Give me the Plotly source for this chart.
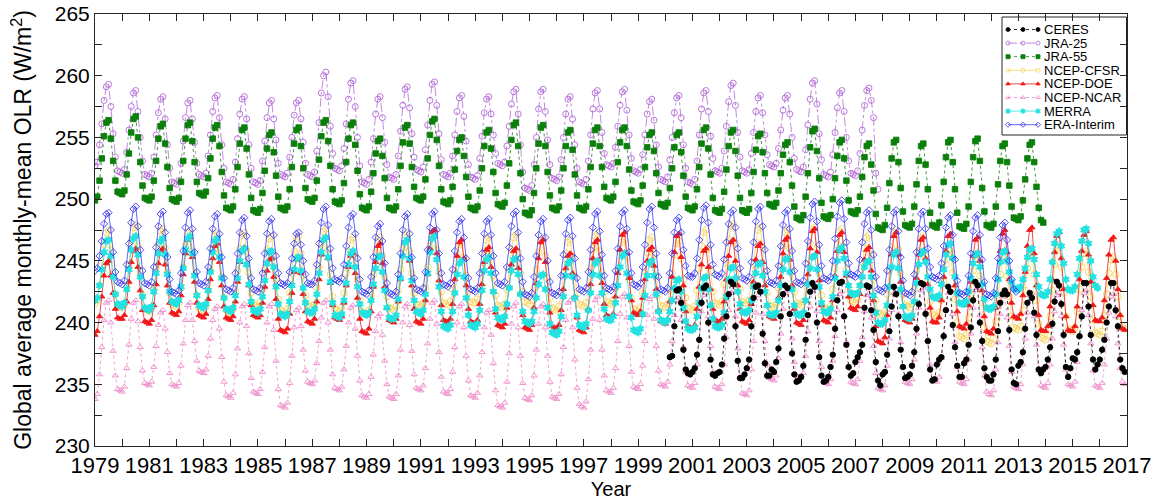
import plotly.graph_objects as go

# ---------------- data (monthly global-mean OLR, W/m^2) ----------------
CERES_START = (2000, 3)
CERES = [
    237.2, 237.3, 239.7, 242.6, 242.7, 241.6, 237.8, 236.2, 235.9, 235.8,
    236.0, 236.3, 237.4, 238.6, 241.6, 242.8, 243.0, 240.0, 237.0, 235.8, 235.7, 235.9,
    236.0, 236.6, 238.7, 240.5, 242.3, 243.3, 243.1, 239.7, 236.9, 235.5, 235.5, 235.8,
    236.3, 237.0, 239.7, 242.0, 242.9, 243.0, 242.5, 239.1, 236.7, 235.7, 235.7, 236.2,
    236.0, 236.8, 237.9, 240.5, 242.3, 243.0, 242.8, 240.7, 237.5, 235.8, 235.2, 235.3,
    235.6, 236.5, 238.6, 240.6, 242.5, 243.2, 242.9, 240.0, 237.2, 235.7, 235.2, 235.3,
    235.6, 236.4, 237.4, 239.5, 241.8, 243.2, 243.3, 240.5, 238.2, 236.4, 235.7, 235.9,
    236.8, 237.2, 237.6, 238.2, 241.2, 243.0, 242.9, 241.0, 239.4, 236.8, 235.3, 234.9,
    235.8, 236.0, 237.4, 239.3, 241.3, 242.9, 242.3, 240.5, 237.8, 236.4, 235.5, 235.6,
    235.8, 236.5, 237.6, 239.5, 241.5, 243.2, 243.1, 240.7, 238.5, 236.2, 235.3, 235.4,
    236.6, 237.0, 237.2, 238.9, 241.0, 242.9, 242.5, 239.8, 238.0, 236.5, 235.6, 235.6,
    236.7, 237.0, 238.2, 239.6, 241.8, 243.3, 243.0, 240.0, 238.5, 236.3, 235.6, 235.3,
    235.3, 235.8, 237.0, 239.3, 241.6, 242.3, 242.6, 242.3, 239.4, 236.2, 235.1, 235.0,
    236.5, 236.8, 237.6, 239.5, 241.6, 242.4, 242.0, 240.8, 239.0, 236.2, 235.9, 236.2,
    236.4, 237.0, 238.0, 239.9, 241.7, 243.3, 243.0, 241.5, 239.0, 236.4, 235.6, 236.3,
    237.1, 237.0, 237.6, 238.9, 240.5, 243.2, 243.2, 241.3, 239.0, 237.0, 236.2, 236.6,
    237.0, 237.8, 238.6, 240.0, 241.3, 243.2, 243.2, 241.0, 239.7, 237.0, 236.3, 236.0,
]

JRA25_START = (1979, 1)
JRA25 = [
    252.7, 253.0, 254.4, 256.1, 258.0, 259.1, 259.3, 257.5, 255.3, 253.4, 252.3, 252.2,
    252.1, 252.4, 253.8, 255.6, 257.5, 258.6, 258.8, 257.1, 255.0, 253.1, 252.0, 251.9,
    251.8, 252.1, 253.4, 255.2, 257.0, 258.1, 258.3, 256.5, 254.4, 252.5, 251.4, 251.3,
    251.2, 251.5, 252.9, 254.7, 256.6, 257.8, 258.0, 256.5, 254.6, 252.9, 252.0, 251.9,
    251.8, 252.1, 253.5, 255.2, 257.1, 258.2, 258.4, 256.6, 254.4, 252.5, 251.4, 251.3,
    251.2, 251.6, 253.0, 254.9, 256.9, 258.1, 258.3, 256.5, 254.4, 252.5, 251.4, 251.3,
    251.2, 251.5, 253.1, 254.7, 256.6, 257.8, 258.0, 256.5, 254.8, 252.9, 252.0, 251.9,
    251.8, 252.1, 253.4, 255.0, 256.8, 257.8, 258.0, 256.5, 254.6, 252.9, 252.0, 251.9,
    251.8, 252.2, 253.9, 256.2, 258.6, 260.0, 260.3, 258.3, 255.9, 253.7, 252.5, 252.4,
    252.3, 252.7, 254.1, 256.1, 258.1, 259.4, 259.6, 257.5, 255.0, 252.7, 251.4, 251.3,
    251.2, 251.6, 253.0, 254.9, 256.9, 258.1, 258.3, 256.6, 254.6, 252.8, 251.8, 251.7,
    251.6, 252.0, 253.5, 255.5, 257.6, 258.9, 259.1, 257.4, 255.3, 253.4, 252.4, 252.3,
    252.2, 252.6, 254.0, 256.0, 258.0, 259.3, 259.5, 257.6, 255.3, 253.2, 252.0, 251.9,
    251.8, 252.1, 253.5, 255.2, 257.1, 258.2, 258.4, 256.7, 254.7, 252.8, 251.8, 251.7,
    251.6, 251.9, 253.3, 255.1, 257.0, 258.1, 258.3, 256.9, 255.2, 253.7, 252.9, 252.8,
    252.7, 253.0, 254.3, 255.9, 257.7, 258.7, 258.9, 256.9, 254.4, 252.2, 250.9, 250.8,
    250.7, 251.1, 252.8, 255.0, 257.3, 258.7, 258.9, 257.1, 254.8, 252.8, 251.7, 251.6,
    251.5, 251.8, 253.2, 255.0, 256.9, 258.1, 258.3, 256.5, 254.4, 252.5, 251.4, 251.3,
    251.2, 251.6, 253.1, 255.2, 257.3, 258.6, 258.8, 257.3, 255.4, 253.7, 252.8, 252.7,
    252.6, 252.9, 254.2, 255.9, 257.6, 258.7, 258.9, 257.2, 255.2, 253.3, 252.3, 252.2,
    252.1, 252.4, 253.6, 255.2, 256.9, 257.9, 258.1, 256.4, 254.4, 252.6, 251.6, 251.5,
    251.4, 251.8, 253.2, 255.0, 257.0, 258.2, 258.4, 256.6, 254.4, 252.5, 251.4, 251.3,
    251.2, 251.6, 253.1, 255.2, 257.3, 258.6, 258.8, 257.1, 255.1, 253.3, 252.3, 252.2,
    252.1, 252.5, 253.9, 255.9, 257.9, 259.2, 259.4, 257.6, 255.4, 253.4, 252.3, 252.2,
    252.1, 252.4, 253.7, 255.4, 257.1, 258.2, 258.4, 257.0, 255.2, 253.6, 252.8, 252.7,
    252.6, 252.9, 254.1, 255.6, 257.2, 258.2, 258.4, 256.9, 255.0, 253.3, 252.4, 252.3,
    252.2, 252.6, 254.0, 256.0, 258.1, 259.4, 259.6, 257.7, 255.3, 253.2, 252.0, 251.9,
    251.8, 252.2, 253.6, 255.4, 257.4, 258.6, 258.8, 257.1, 255.0, 253.1, 252.1, 252.0,
    251.9, 252.3, 253.7, 255.6, 257.6, 258.8, 259.0, 258.0, 256.6, 252.1, 250.8,
]

JRA55_START = (1979, 1)
JRA55 = [
    249.9, 250.2, 251.5, 253.3, 255.1, 256.2, 256.4, 254.9, 253.1, 251.5, 250.6, 250.5,
    250.4, 250.7, 252.0, 253.7, 255.4, 256.5, 256.7, 255.0, 253.0, 251.1, 250.1, 250.0,
    249.9, 250.2, 251.5, 253.1, 254.9, 255.9, 256.1, 254.5, 252.6, 250.9, 250.0, 249.9,
    249.8, 250.1, 251.4, 253.1, 254.9, 256.0, 256.2, 254.7, 253.0, 251.4, 250.5, 250.4,
    250.3, 250.6, 251.7, 253.3, 254.9, 255.8, 256.0, 254.3, 252.2, 250.3, 249.3, 249.2,
    249.1, 249.4, 250.8, 252.6, 254.5, 255.6, 255.8, 254.1, 252.0, 250.1, 249.1, 249.0,
    248.9, 249.2, 250.5, 252.3, 254.1, 255.2, 255.4, 253.8, 251.9, 250.2, 249.3, 249.2,
    249.1, 249.4, 250.8, 252.6, 254.5, 255.6, 255.8, 254.3, 252.5, 250.9, 250.0, 249.9,
    249.8, 250.1, 251.5, 253.2, 255.1, 256.2, 256.4, 254.7, 252.7, 250.8, 249.8, 249.7,
    249.6, 249.9, 251.3, 253.0, 254.9, 256.0, 256.2, 254.4, 252.3, 250.4, 249.3, 249.2,
    249.1, 249.4, 250.6, 252.1, 253.7, 254.7, 254.9, 253.5, 251.7, 250.1, 249.3, 249.2,
    249.1, 249.4, 250.8, 252.7, 254.6, 255.8, 256.0, 254.5, 252.6, 251.0, 250.1, 250.0,
    249.9, 250.2, 251.6, 253.3, 255.2, 256.3, 256.5, 254.8, 252.7, 250.8, 249.8, 249.7,
    249.6, 249.9, 251.0, 252.4, 253.9, 254.8, 255.0, 253.5, 251.8, 250.2, 249.3, 249.2,
    249.1, 249.4, 250.7, 252.5, 254.3, 255.4, 255.6, 254.1, 252.2, 250.5, 249.6, 249.5,
    249.4, 249.7, 251.1, 252.9, 254.8, 256.0, 256.2, 254.3, 252.1, 250.0, 248.9, 248.8,
    248.7, 249.1, 250.5, 252.5, 254.5, 255.8, 256.0, 254.3, 252.2, 250.3, 249.3, 249.2,
    249.1, 249.4, 250.7, 252.5, 254.3, 255.4, 255.6, 254.0, 252.0, 250.3, 249.3, 249.2,
    249.1, 249.4, 250.8, 252.6, 254.5, 255.6, 255.8, 254.3, 252.6, 251.0, 250.1, 250.0,
    249.9, 250.2, 251.4, 253.0, 254.6, 255.6, 255.8, 254.3, 252.4, 250.7, 249.8, 249.7,
    249.6, 249.9, 251.1, 252.6, 254.2, 255.2, 255.4, 253.9, 252.1, 250.5, 249.6, 249.5,
    249.4, 249.7, 250.9, 252.5, 254.2, 255.2, 255.4, 253.8, 251.9, 250.2, 249.3, 249.2,
    249.1, 249.4, 250.8, 252.6, 254.5, 255.6, 255.8, 254.1, 252.0, 250.1, 249.1, 249.0,
    248.9, 249.2, 250.6, 252.4, 254.3, 255.4, 255.6, 253.9, 251.9, 250.1, 249.1, 249.0,
    248.9, 249.2, 250.5, 252.2, 254.0, 255.1, 255.3, 253.8, 252.1, 250.5, 249.6, 249.5,
    249.4, 249.7, 250.7, 252.1, 253.6, 254.4, 254.6, 253.0, 251.1, 249.4, 248.5, 248.4,
    248.3, 248.7, 250.2, 252.1, 254.2, 255.5, 255.7, 253.9, 251.7, 249.7, 248.6, 248.5,
    248.4, 248.7, 250.0, 251.7, 253.5, 254.6, 254.8, 253.3, 251.5, 249.9, 249.0, 248.9,
    248.8, 249.1, 250.2, 251.8, 253.4, 254.3, 254.5, 252.8, 250.7, 248.8, 247.7, 247.6,
    247.5, 247.9, 249.3, 251.3, 253.3, 254.6, 254.8, 253.0, 250.9, 249.0, 247.9, 247.8,
    247.7, 248.0, 249.4, 251.2, 253.1, 254.3, 254.5, 252.8, 250.8, 248.9, 247.9, 247.8,
    247.7, 248.1, 249.5, 251.4, 253.4, 254.6, 254.8, 253.0, 250.8, 248.9, 247.8, 247.7,
    247.6, 248.0, 249.4, 251.4, 253.4, 254.7, 254.9, 253.1, 250.9, 249.0, 247.9, 247.8,
    247.7, 248.0, 249.4, 251.2, 253.1, 254.3, 254.5, 253.0, 251.1, 249.4, 248.5, 248.4,
    248.3, 248.6, 249.9, 251.6, 253.3, 254.4, 254.6, 253.0, 251.0, 249.3, 248.3, 248.1,
]

CFSR_START = (1979, 1)
CFSR = [
    241.5, 241.8, 243.0, 244.6, 246.3, 247.3, 247.5, 245.9, 244.0, 242.3, 241.4, 241.3,
    241.2, 241.5, 242.9, 244.7, 246.6, 247.7, 247.9, 246.2, 244.1, 242.2, 241.1, 241.0,
    240.9, 241.2, 242.6, 244.4, 246.3, 247.4, 247.6, 246.0, 244.1, 242.4, 241.5, 241.4,
    241.3, 241.6, 242.8, 244.5, 246.2, 247.2, 247.4, 245.8, 243.9, 242.2, 241.2, 241.1,
    241.0, 241.3, 242.6, 244.2, 246.0, 247.0, 247.2, 245.6, 243.7, 242.0, 241.0, 240.9,
    240.8, 241.1, 242.4, 244.2, 246.0, 247.1, 247.3, 245.8, 244.0, 242.4, 241.5, 241.4,
    241.3, 241.6, 242.7, 244.3, 245.9, 246.8, 247.0, 245.5, 243.6, 241.9, 241.0, 240.9,
    240.8, 241.1, 242.4, 244.0, 245.8, 246.8, 247.0, 245.6, 243.8, 242.2, 241.4, 241.3,
    241.2, 241.5, 242.8, 244.5, 246.3, 247.4, 247.6, 245.9, 243.9, 242.1, 241.1, 241.0,
    240.9, 241.2, 242.4, 244.0, 245.7, 246.7, 246.9, 245.4, 243.5, 241.8, 240.9, 240.8,
    240.7, 241.0, 242.3, 243.9, 245.7, 246.7, 246.9, 245.4, 243.7, 242.1, 241.2, 241.1,
    241.0, 241.3, 242.6, 244.3, 246.0, 247.1, 247.3, 245.8, 244.0, 242.4, 241.5, 241.4,
    241.3, 241.6, 242.8, 244.5, 246.2, 247.2, 247.4, 245.9, 244.1, 242.5, 241.6, 241.5,
    241.4, 241.7, 242.7, 244.1, 245.5, 246.3, 246.5, 245.3, 243.8, 242.5, 241.7, 241.6,
    241.6, 241.9, 242.9, 244.4, 245.8, 246.7, 246.9, 245.5, 243.8, 242.2, 241.4, 241.3,
    241.2, 241.5, 242.7, 244.3, 245.9, 246.9, 247.1, 245.7, 244.0, 242.5, 241.7, 241.6,
    241.5, 241.8, 242.8, 244.3, 245.7, 246.6, 246.8, 245.4, 243.6, 242.0, 241.2, 241.1,
    241.0, 241.3, 242.4, 244.0, 245.6, 246.5, 246.7, 245.4, 243.7, 242.3, 241.5, 241.4,
    241.3, 241.6, 242.8, 244.4, 246.0, 247.0, 247.2, 245.8, 244.1, 242.5, 241.7, 241.6,
    241.5, 241.8, 242.8, 244.2, 245.7, 246.5, 246.7, 245.3, 243.5, 241.9, 241.1, 241.0,
    240.9, 241.2, 242.4, 244.0, 245.7, 246.7, 246.9, 245.5, 243.8, 242.2, 241.4, 241.3,
    241.2, 241.5, 242.6, 244.0, 245.5, 246.4, 246.6, 245.2, 243.5, 242.0, 241.2, 241.1,
    241.0, 241.3, 242.6, 244.4, 246.2, 247.3, 247.5, 246.0, 244.1, 242.5, 241.6, 241.5,
    241.4, 241.7, 243.1, 244.8, 246.7, 247.8, 248.0, 246.4, 244.4, 242.7, 241.7, 241.6,
    241.5, 241.8, 243.1, 244.7, 246.5, 247.5, 247.7, 246.1, 244.1, 242.4, 241.4, 241.3,
    241.2, 241.5, 242.8, 244.5, 246.2, 247.3, 247.5, 246.0, 244.1, 242.5, 241.6, 241.5,
    241.4, 241.7, 243.0, 244.7, 246.4, 247.5, 247.7, 246.0, 244.0, 242.2, 241.2, 241.1,
    241.0, 241.3, 242.7, 244.4, 246.3, 247.4, 247.6, 246.1, 244.3, 242.7, 241.8, 241.7,
    241.6, 241.9, 243.0, 244.5, 246.0, 246.9, 247.1, 245.5, 243.5, 241.8, 240.8, 240.7,
    240.6, 240.9, 242.3, 244.2, 246.1, 247.3, 247.5, 245.9, 244.0, 242.3, 241.4, 241.3,
    241.2, 241.5, 242.7, 244.2, 245.8, 246.8, 247.0, 245.4, 243.4, 241.7, 240.7, 240.6,
    240.5, 240.8, 241.8, 243.3, 244.7, 245.6, 245.8, 244.0, 241.9, 240.0, 238.9, 238.8,
    238.7, 239.0, 240.4, 242.3, 244.2, 245.4, 245.6, 243.8, 241.6, 239.6, 238.5, 238.4,
    238.3, 238.7, 240.1, 242.0, 243.9, 245.1, 245.3, 243.8, 242.1, 240.5, 239.6, 239.5,
    239.4, 239.7, 241.0, 242.6, 244.4, 245.4, 245.6, 243.9, 241.8, 239.9, 238.8, 238.7,
    238.6, 239.0, 240.5, 242.6, 244.7, 246.0, 246.2, 244.5, 242.4, 240.5, 239.5, 239.4,
    239.3, 239.6, 240.9, 242.7, 244.5, 245.6, 245.8, 244.1, 242.1, 240.2, 239.2, 239.1,
    239.0, 239.3, 240.6, 242.3, 244.0, 245.1, 245.3, 243.9, 242.1, 240.5, 239.7, 239.5,
]

DOE_START = (1979, 1)
DOE = [
    239.0, 239.3, 240.5, 242.1, 243.8, 244.8, 245.0, 243.8, 242.4, 241.1, 240.4, 240.3,
    240.3, 240.6, 241.7, 243.3, 244.9, 245.8, 246.0, 244.5, 242.6, 241.0, 240.1, 240.0,
    239.9, 240.2, 241.4, 243.1, 244.8, 245.8, 246.0, 244.7, 243.0, 241.6, 240.8, 240.7,
    240.6, 240.9, 242.2, 243.9, 245.6, 246.7, 246.9, 245.3, 243.3, 241.6, 240.6, 240.5,
    240.4, 240.7, 241.9, 243.5, 245.2, 246.2, 246.4, 244.9, 243.0, 241.3, 240.4, 240.3,
    240.2, 240.5, 241.7, 243.3, 244.9, 245.9, 246.1, 244.7, 243.0, 241.4, 240.6, 240.5,
    240.4, 240.6, 241.6, 242.9, 244.2, 245.1, 245.2, 243.7, 241.9, 240.3, 239.4, 239.3,
    239.2, 239.5, 240.7, 242.4, 244.1, 245.1, 245.3, 244.0, 242.3, 240.9, 240.1, 240.0,
    239.9, 240.3, 241.7, 243.5, 245.5, 246.7, 246.9, 245.2, 243.2, 241.4, 240.4, 240.3,
    240.2, 240.5, 241.6, 243.0, 244.5, 245.4, 245.6, 244.0, 242.0, 240.3, 239.3, 239.2,
    239.1, 239.5, 240.9, 242.9, 244.9, 246.2, 246.4, 244.8, 242.9, 241.2, 240.2, 240.1,
    240.0, 240.3, 241.7, 243.5, 245.4, 246.5, 246.7, 245.0, 243.0, 241.1, 240.1, 240.0,
    239.9, 240.3, 241.8, 243.9, 246.0, 247.3, 247.5, 245.6, 243.4, 241.4, 240.2, 240.1,
    240.0, 240.3, 241.5, 243.5, 245.4, 246.5, 246.7, 245.2, 243.0, 241.1, 240.1, 240.0,
    239.9, 240.2, 241.5, 243.1, 244.9, 245.9, 246.1, 244.5, 242.5, 240.8, 239.8, 239.7,
    239.6, 239.9, 241.2, 242.9, 244.7, 245.8, 246.0, 244.4, 242.4, 240.6, 239.6, 239.5,
    239.4, 239.8, 241.2, 243.2, 245.2, 246.5, 246.7, 244.9, 242.7, 240.8, 239.7, 239.6,
    239.5, 239.8, 241.0, 242.7, 244.4, 245.4, 245.6, 244.0, 242.1, 240.4, 239.4, 239.3,
    239.2, 239.6, 241.1, 243.1, 245.2, 246.5, 246.7, 245.1, 243.2, 241.5, 240.6, 240.5,
    240.4, 240.7, 242.1, 244.0, 245.9, 247.1, 247.3, 245.6, 243.6, 241.8, 240.8, 240.7,
    240.6, 240.9, 242.0, 243.5, 245.0, 245.9, 246.1, 244.6, 242.7, 241.0, 240.1, 240.0,
    239.9, 240.3, 241.7, 243.7, 245.7, 247.0, 247.2, 245.3, 243.0, 240.9, 239.7, 239.6,
    239.5, 239.8, 241.1, 242.9, 244.7, 245.8, 246.0, 244.5, 242.7, 241.1, 240.2, 240.1,
    240.0, 240.3, 241.7, 243.5, 245.4, 246.5, 246.7, 245.0, 243.0, 241.1, 240.1, 240.0,
    239.9, 240.2, 241.5, 243.3, 245.1, 246.2, 246.4, 244.9, 243.0, 241.4, 240.5, 240.4,
    240.3, 240.6, 242.0, 243.7, 245.6, 246.7, 246.9, 245.1, 243.0, 241.1, 240.0, 239.9,
    239.8, 240.2, 241.8, 243.9, 246.0, 247.4, 247.6, 245.7, 243.4, 241.4, 240.2, 240.1,
    240.0, 240.4, 241.8, 243.8, 245.8, 247.1, 247.3, 245.7, 243.8, 242.1, 241.2, 241.1,
    241.0, 241.3, 242.3, 243.7, 245.1, 245.9, 246.1, 244.2, 241.8, 239.7, 238.5, 238.4,
    238.3, 238.8, 240.6, 243.0, 245.5, 247.0, 247.3, 245.5, 243.3, 241.3, 240.2, 240.1,
    240.0, 240.3, 241.7, 243.6, 245.5, 246.7, 246.9, 245.2, 243.1, 241.2, 240.1, 240.0,
    240.0, 240.4, 241.8, 243.7, 245.8, 247.0, 247.2, 245.3, 243.0, 240.9, 239.7, 239.6,
    239.5, 239.9, 241.4, 243.3, 245.4, 246.7, 246.9, 245.0, 242.6, 240.5, 239.3, 239.2,
    239.1, 239.5, 241.2, 243.5, 245.8, 247.2, 247.5, 245.7, 243.5, 241.6, 240.5, 240.4,
    240.3, 240.7, 242.2, 244.1, 246.2, 247.5, 247.7, 245.6, 243.0, 240.6, 239.4, 239.3,
    239.3, 239.7, 241.3, 243.5, 245.7, 247.0, 247.3, 245.2, 242.7, 240.5, 239.4, 239.3,
    239.3, 239.7, 241.3, 243.5, 245.8, 247.1, 247.4, 245.5, 243.3, 241.4, 240.2, 240.1,
    240.1, 240.4, 241.8, 243.6, 245.5, 246.7, 246.9, 245.0, 242.7, 240.6, 239.5, 239.4,
]

NCAR_START = (1979, 1)
NCAR = [
    233.8, 234.2, 235.8, 238.0, 240.2, 241.6, 241.8, 240.0, 237.7, 235.7, 234.6, 234.5,
    234.4, 234.8, 236.3, 238.2, 240.3, 241.6, 241.8, 240.1, 238.0, 236.1, 235.1, 235.0,
    234.9, 235.2, 236.4, 238.1, 239.8, 240.8, 241.0, 239.5, 237.6, 235.9, 235.0, 234.9,
    234.8, 235.1, 236.5, 238.3, 240.2, 241.4, 241.6, 240.2, 238.5, 236.9, 236.1, 236.0,
    235.9, 236.2, 237.3, 238.7, 240.2, 241.1, 241.3, 239.5, 237.2, 235.2, 234.1, 234.0,
    233.9, 234.3, 235.8, 237.9, 240.0, 241.3, 241.5, 239.7, 237.5, 235.5, 234.4, 234.3,
    234.2, 234.6, 236.0, 238.0, 240.0, 241.3, 241.5, 239.4, 236.9, 234.6, 233.3, 233.2,
    233.1, 233.5, 235.1, 237.3, 239.6, 241.0, 241.2, 239.7, 237.8, 236.1, 235.2, 235.1,
    235.0, 235.3, 236.7, 238.5, 240.4, 241.6, 241.8, 240.0, 237.8, 235.8, 234.7, 234.6,
    234.5, 234.8, 236.2, 238.1, 240.0, 241.2, 241.4, 239.5, 237.3, 235.3, 234.1, 234.0,
    233.9, 234.2, 235.6, 237.4, 239.3, 240.5, 240.7, 239.0, 236.9, 235.0, 234.0, 233.9,
    233.8, 234.2, 235.7, 237.8, 240.0, 241.3, 241.5, 239.8, 237.7, 235.8, 234.7, 234.6,
    234.5, 234.9, 236.3, 238.3, 240.3, 241.6, 241.8, 239.9, 237.6, 235.6, 234.4, 234.3,
    234.2, 234.6, 236.0, 238.0, 240.0, 241.3, 241.5, 239.6, 237.3, 235.3, 234.1, 234.0,
    233.9, 234.3, 235.7, 237.6, 239.6, 240.8, 241.0, 239.0, 236.7, 234.5, 233.3, 233.2,
    233.1, 233.5, 235.2, 237.5, 239.9, 241.3, 241.6, 239.6, 237.3, 235.1, 233.9, 233.8,
    233.7, 234.1, 235.7, 237.8, 239.9, 241.3, 241.5, 239.6, 237.3, 235.2, 234.0, 233.9,
    233.8, 234.2, 235.8, 238.0, 240.2, 241.6, 241.8, 239.6, 237.0, 234.7, 233.4, 233.2,
    233.1, 233.6, 235.4, 237.8, 240.3, 241.8, 242.1, 240.2, 237.8, 235.7, 234.5, 234.4,
    234.3, 234.7, 236.3, 238.5, 240.7, 242.1, 242.3, 240.4, 238.1, 236.0, 234.8, 234.7,
    234.6, 235.0, 236.5, 238.5, 240.6, 241.9, 242.1, 240.3, 238.1, 236.1, 235.0, 234.9,
    234.8, 235.2, 236.6, 238.5, 240.6, 241.8, 242.0, 240.2, 238.0, 236.0, 234.9, 234.8,
    234.7, 235.1, 236.6, 238.7, 240.9, 242.2, 242.4, 240.5, 238.1, 236.0, 234.8, 234.7,
    234.6, 235.0, 236.6, 238.8, 241.0, 242.4, 242.6, 240.5, 237.9, 235.6, 234.3, 234.2,
    234.1, 234.5, 236.2, 238.5, 240.8, 242.2, 242.5, 240.7, 238.5, 236.6, 235.5, 235.4,
    235.3, 235.7, 237.1, 239.1, 241.1, 242.4, 242.6, 240.8, 238.7, 236.8, 235.7, 235.6,
    235.5, 235.9, 237.3, 239.3, 241.3, 242.6, 242.8, 240.9, 238.5, 236.4, 235.2, 235.1,
    235.0, 235.4, 236.9, 238.9, 241.0, 242.3, 242.5, 240.6, 238.4, 236.4, 235.2, 235.1,
    235.0, 235.4, 236.9, 238.8, 240.9, 242.2, 242.4, 240.4, 238.1, 235.9, 234.7, 234.6,
    234.5, 234.9, 236.5, 238.7, 241.0, 242.4, 242.6, 240.7, 238.4, 236.4, 235.2, 235.1,
    235.0, 235.4, 237.0, 239.1, 241.2, 242.6, 242.8, 240.9, 238.6, 236.6, 235.4, 235.3,
    235.2, 235.6, 237.1, 239.0, 241.1, 242.4, 242.6, 240.7, 238.4, 236.4, 235.2, 235.1,
    235.0, 235.4, 237.0, 239.1, 241.2, 242.6, 242.8, 240.6, 238.0, 235.7, 234.4, 234.2,
    234.1, 234.5, 236.2, 238.4, 240.7, 242.1, 242.3, 240.4, 238.1, 236.0, 234.8, 234.7,
    234.6, 235.0, 236.6, 238.7, 240.8, 242.2, 242.4, 240.5, 238.2, 236.1, 234.9, 234.8,
    234.7, 235.1, 236.6, 238.7, 240.9, 242.2, 242.4, 240.5, 238.2, 236.2, 235.0, 234.9,
    234.8, 235.2, 236.8, 238.9, 241.0, 242.4, 242.6, 240.6, 238.3, 236.1, 234.9, 234.8,
    234.7, 235.1, 236.6, 238.7, 240.8, 242.1, 242.3, 240.5, 238.3, 236.3, 235.2, 235.0,
]

MERRA_START = (1979, 1)
MERRA = [
    241.8, 242.0, 243.0, 244.3, 245.7, 246.6, 246.7, 245.4, 243.7, 242.3, 241.5, 241.4,
    241.3, 241.6, 242.7, 244.3, 245.9, 246.8, 247.0, 245.5, 243.7, 242.1, 241.2, 241.1,
    241.0, 241.3, 242.5, 244.0, 245.6, 246.6, 246.8, 245.5, 243.9, 242.5, 241.7, 241.6,
    241.5, 241.8, 242.9, 244.4, 245.9, 246.8, 247.0, 245.6, 243.8, 242.2, 241.4, 241.3,
    241.2, 241.5, 242.6, 244.1, 245.7, 246.6, 246.8, 245.3, 243.6, 242.0, 241.1, 241.0,
    240.9, 241.2, 242.2, 243.6, 245.0, 245.8, 246.0, 244.7, 243.1, 241.7, 241.0, 240.9,
    240.8, 241.1, 242.1, 243.4, 244.8, 245.7, 245.8, 244.5, 242.9, 241.5, 240.7, 240.6,
    240.5, 240.7, 241.7, 243.0, 244.3, 245.2, 245.3, 244.2, 242.8, 241.6, 240.9, 240.8,
    240.8, 241.1, 242.3, 244.0, 245.7, 246.7, 246.9, 245.3, 243.3, 241.6, 240.6, 240.5,
    240.4, 240.7, 241.8, 243.2, 244.7, 245.6, 245.8, 244.5, 242.9, 241.5, 240.8, 240.7,
    240.6, 240.8, 241.8, 243.1, 244.4, 245.3, 245.4, 244.1, 242.6, 241.2, 240.4, 240.3,
    240.3, 240.6, 241.9, 243.6, 245.4, 246.5, 246.7, 245.2, 243.4, 241.8, 240.9, 240.8,
    240.7, 241.0, 242.3, 244.0, 245.7, 246.8, 247.0, 245.1, 242.9, 240.9, 239.7, 239.6,
    239.5, 239.8, 240.9, 242.4, 243.9, 244.8, 245.0, 243.7, 242.0, 240.6, 239.8, 239.7,
    239.6, 239.9, 241.0, 242.6, 244.2, 245.1, 245.3, 244.0, 242.5, 241.1, 240.4, 240.3,
    240.2, 240.5, 241.5, 242.8, 244.2, 245.1, 245.2, 243.9, 242.3, 240.9, 240.1, 240.0,
    239.9, 240.1, 240.9, 242.0, 243.1, 243.8, 243.9, 242.7, 241.2, 239.9, 239.2, 239.1,
    239.0, 239.3, 240.5, 242.1, 243.8, 244.8, 245.0, 243.7, 242.0, 240.6, 239.8, 239.7,
    239.6, 239.9, 241.0, 242.4, 243.9, 244.8, 245.0, 243.8, 242.4, 241.1, 240.3, 240.2,
    240.2, 240.5, 241.6, 243.0, 244.5, 245.4, 245.6, 244.0, 242.1, 240.4, 239.4, 239.3,
    239.2, 239.5, 240.7, 242.2, 243.8, 244.8, 245.0, 243.8, 242.3, 240.9, 240.2, 240.1,
    240.0, 240.2, 240.9, 241.8, 242.8, 243.4, 243.5, 242.5, 241.2, 240.1, 239.5, 239.4,
    239.4, 239.6, 240.5, 241.6, 242.8, 243.6, 243.7, 242.7, 241.4, 240.3, 239.7, 239.6,
    239.6, 239.8, 240.8, 242.1, 243.5, 244.4, 244.5, 243.6, 242.5, 241.5, 240.9, 240.8,
    240.8, 241.0, 241.8, 242.9, 244.0, 244.7, 244.8, 243.8, 242.5, 241.4, 240.7, 240.6,
    240.6, 240.8, 241.8, 243.0, 244.3, 245.1, 245.2, 244.1, 242.7, 241.4, 240.7, 240.6,
    240.6, 240.8, 241.8, 243.1, 244.4, 245.3, 245.4, 244.3, 242.9, 241.6, 240.9, 240.8,
    240.8, 241.1, 242.1, 243.6, 245.0, 245.9, 246.1, 245.2, 244.0, 243.0, 242.4, 242.3,
    242.3, 242.4, 243.0, 243.7, 244.5, 244.9, 245.0, 243.7, 242.2, 240.8, 240.0, 239.9,
    239.9, 240.2, 241.4, 242.9, 244.5, 245.5, 245.7, 244.4, 242.7, 241.3, 240.5, 240.4,
    240.3, 240.6, 241.7, 243.2, 244.7, 245.6, 245.8, 244.9, 243.7, 242.7, 242.1, 242.0,
    242.0, 242.2, 243.1, 244.3, 245.5, 246.3, 246.4, 245.2, 243.7, 242.4, 241.6, 241.5,
    241.5, 241.7, 242.5, 243.6, 244.8, 245.5, 245.6, 244.5, 243.1, 241.9, 241.2, 241.1,
    241.1, 241.3, 242.3, 243.5, 244.9, 245.7, 245.8, 245.0, 244.1, 243.3, 242.8, 242.7,
    242.7, 242.9, 243.5, 244.4, 245.3, 245.9, 246.0, 245.1, 243.9, 242.9, 242.3, 242.2,
    242.2, 242.5, 243.5, 244.9, 246.4, 247.2, 247.4, 246.2, 244.8, 243.5, 242.7, 242.6,
    242.6, 242.9, 243.9, 245.2, 246.6, 247.5, 247.6, 246.4, 245.0, 243.7, 243.0, 242.8,
]

ERAI_START = (1979, 1)
ERAI = [
    244.2, 244.4, 245.4, 246.6, 248.0, 248.8, 248.9, 247.5, 245.7, 244.1, 243.3, 243.2,
    243.1, 243.4, 244.7, 246.4, 248.1, 249.2, 249.4, 247.8, 245.9, 244.2, 243.2, 243.1,
    243.0, 243.3, 244.5, 246.1, 247.8, 248.8, 249.0, 247.3, 245.3, 243.5, 242.5, 242.4,
    242.3, 242.6, 244.0, 245.8, 247.7, 248.9, 249.1, 247.6, 245.7, 244.1, 243.2, 243.1,
    243.0, 243.3, 244.5, 246.0, 247.6, 248.6, 248.8, 247.2, 245.3, 243.6, 242.7, 242.6,
    242.5, 242.8, 244.0, 245.6, 247.3, 248.3, 248.5, 247.0, 245.2, 243.6, 242.7, 242.6,
    242.5, 242.8, 244.0, 245.6, 247.2, 248.2, 248.4, 247.1, 245.4, 244.0, 243.2, 243.1,
    243.0, 243.2, 244.1, 245.2, 246.4, 247.2, 247.3, 246.3, 245.0, 243.9, 243.2, 243.1,
    243.1, 243.4, 244.7, 246.4, 248.1, 249.2, 249.4, 247.9, 246.0, 244.4, 243.5, 243.4,
    243.3, 243.6, 244.7, 246.2, 247.7, 248.6, 248.8, 247.2, 245.2, 243.5, 242.5, 242.4,
    242.3, 242.6, 243.7, 245.3, 246.9, 247.8, 248.0, 246.6, 244.8, 243.2, 242.4, 242.3,
    242.2, 242.5, 243.9, 245.6, 247.5, 248.6, 248.8, 247.2, 245.3, 243.6, 242.7, 242.6,
    242.5, 242.8, 244.1, 245.9, 247.7, 248.8, 249.0, 247.5, 245.6, 244.0, 243.1, 243.0,
    242.9, 243.2, 244.3, 245.8, 247.3, 248.2, 248.4, 246.9, 245.2, 243.6, 242.7, 242.6,
    242.5, 242.8, 244.0, 245.6, 247.2, 248.2, 248.4, 247.1, 245.4, 244.0, 243.2, 243.1,
    243.0, 243.3, 244.5, 246.1, 247.8, 248.8, 249.0, 247.3, 245.2, 243.3, 242.3, 242.2,
    242.1, 242.4, 243.7, 245.4, 247.1, 248.2, 248.4, 246.9, 245.0, 243.3, 242.4, 242.3,
    242.2, 242.5, 243.8, 245.5, 247.2, 248.3, 248.5, 247.0, 245.2, 243.6, 242.7, 242.6,
    242.5, 242.8, 244.1, 245.9, 247.7, 248.8, 249.0, 247.4, 245.5, 243.8, 242.8, 242.7,
    242.6, 242.9, 244.2, 246.0, 247.8, 248.9, 249.1, 247.6, 245.7, 244.0, 243.1, 243.0,
    242.9, 243.2, 244.5, 246.3, 248.1, 249.2, 249.4, 247.7, 245.6, 243.7, 242.7, 242.6,
    242.5, 242.8, 244.0, 245.6, 247.3, 248.3, 248.5, 247.3, 245.9, 244.6, 243.8, 243.7,
    243.7, 244.0, 245.2, 246.7, 248.3, 249.3, 249.5, 248.1, 246.3, 244.7, 243.9, 243.8,
    243.7, 244.0, 245.1, 246.5, 248.0, 248.9, 249.1, 247.7, 246.0, 244.4, 243.6, 243.5,
    243.4, 243.7, 244.9, 246.5, 248.2, 249.2, 249.4, 247.8, 245.9, 244.2, 243.3, 243.2,
    243.1, 243.4, 244.6, 246.2, 247.9, 248.9, 249.1, 247.6, 245.8, 244.2, 243.3, 243.2,
    243.1, 243.4, 244.8, 246.6, 248.5, 249.6, 249.8, 248.2, 246.3, 244.6, 243.6, 243.5,
    243.4, 243.7, 245.0, 246.8, 248.6, 249.7, 249.9, 248.4, 246.5, 244.8, 243.9, 243.8,
    243.7, 244.0, 245.1, 246.5, 248.0, 248.9, 249.1, 247.5, 245.5, 243.7, 242.7, 242.6,
    242.5, 242.8, 244.2, 245.9, 247.8, 248.9, 249.1, 247.4, 245.3, 243.4, 242.4, 242.3,
    242.2, 242.5, 243.9, 245.7, 247.6, 248.8, 249.0, 247.6, 246.0, 244.5, 243.7, 243.6,
    243.5, 243.8, 244.8, 246.2, 247.7, 248.5, 248.7, 247.1, 245.1, 243.4, 242.4, 242.3,
    242.2, 242.5, 243.8, 245.6, 247.4, 248.5, 248.7, 247.1, 245.1, 243.3, 242.3, 242.2,
    242.1, 242.4, 243.6, 245.2, 246.9, 247.9, 248.1, 246.7, 245.0, 243.5, 242.7, 242.5,
]

SERIES = [
    ("CERES", CERES_START, CERES),
    ("JRA-25", JRA25_START, JRA25),
    ("JRA-55", JRA55_START, JRA55),
    ("NCEP-CFSR", CFSR_START, CFSR),
    ("NCEP-DOE", DOE_START, DOE),
    ("NCEP-NCAR", NCAR_START, NCAR),
    ("MERRA", MERRA_START, MERRA),
    ("ERA-Interim", ERAI_START, ERAI),
]

# ---------------- styles ----------------
STYLE = {
    "CERES":       dict(color="#000000", symbol="circle", size=5.5, dash="dot"),
    "JRA-25":      dict(color="#B26AD6", symbol="circle-open", size=6, dash="dashdot"),
    "JRA-55":      dict(color="#0A7F0A", symbol="square", size=5.5, dash="dot"),
    "NCEP-CFSR":   dict(color="#F7D560", symbol="circle-open", size=6.5, dash="solid"),
    "NCEP-DOE":    dict(color="#F01818", symbol="triangle-up", size=5.5, dash="solid"),
    "NCEP-NCAR":   dict(color="#EE8AC8", symbol="triangle-up-open", size=5.5, dash="dot"),
    "MERRA":       dict(color="#22E2E2", symbol="hexagram", size=6, dash="solid"),
    "ERA-Interim": dict(color="#3A3AF2", symbol="diamond-open", size=5.5, dash="solid"),
}
DRAW_ORDER = ["JRA-25", "JRA-55", "NCEP-CFSR", "NCEP-NCAR", "NCEP-DOE", "MERRA",
              "ERA-Interim", "CERES"]

AXIS_COLOR = "#262626"
FONT = "Liberation Sans, Arial, Helvetica, sans-serif"
W, H = 1163, 500
L, R, T, B = 95, 36, 14, 54
PW, PH = W - L - R, H - T - B


def px_x(px):
    return (px - L) / PW


def px_y(py):
    return (H - B - py) / PH


fig = go.Figure()
lookup = {name: (start, vals) for name, start, vals in SERIES}

for name in DRAW_ORDER:
    (y0, m0), vals = lookup[name]
    xs = [y0 + (m0 - 1 + i) / 12.0 for i in range(len(vals))]
    st = STYLE[name]
    fig.add_trace(go.Scatter(
        x=xs, y=vals, name=name, mode="lines+markers", showlegend=False,
        line=dict(color=st["color"], width=0.8, dash=st["dash"]),
        marker=dict(symbol=st["symbol"], size=st["size"], color=st["color"],
                    line=dict(color=st["color"], width=0.9)),
        hoverinfo="skip",
    ))

# ---------------- legend box (drawn on an overlay axis in plot-fraction units) ----
bx0, bx1, by0, by1 = px_x(1002), px_x(1126.5), px_y(135), px_y(17)
fig.add_trace(go.Scatter(
    x=[bx0, bx1, bx1, bx0, bx0], y=[by0, by0, by1, by1, by0],
    xaxis="x2", yaxis="y2", mode="lines", fill="toself", fillcolor="white",
    line=dict(color=AXIS_COLOR, width=1), showlegend=False, hoverinfo="skip",
))
annotations = []
for k, (name, _, _) in enumerate(SERIES):
    st = STYLE[name]
    yk = px_y(29.5 + 13.6 * k)
    fig.add_trace(go.Scatter(
        x=[px_x(1008), px_x(1023), px_x(1038)], y=[yk, yk, yk],
        xaxis="x2", yaxis="y2", mode="lines+markers", showlegend=False,
        hoverinfo="skip",
        line=dict(color=st["color"], width=0.8, dash=st["dash"]),
        marker=dict(symbol=st["symbol"], size=4, color=st["color"],
                    line=dict(color=st["color"], width=0.8)),
    ))
    annotations.append(dict(
        x=px_x(1042), y=yk, xref="x2", yref="y2", text=name, showarrow=False,
        xanchor="left", yanchor="middle",
        font=dict(family=FONT, size=13, color="#000000"),
    ))

fig.update_layout(
    width=W, height=H,
    margin=dict(l=L, r=R, t=T, b=B),
    paper_bgcolor="white", plot_bgcolor="white",
    font=dict(family=FONT, color="#000000", size=20),
    showlegend=False,
    annotations=annotations,
    xaxis2=dict(overlaying="x", range=[0, 1], visible=False, fixedrange=True),
    yaxis2=dict(overlaying="y", range=[0, 1], visible=False, fixedrange=True),
)

fig.update_xaxes(
    selector=dict(anchor="y"),
    range=[1979, 2017], tick0=1979, dtick=2, tickformat="d",
    ticks="inside", ticklen=7, tickcolor=AXIS_COLOR, tickwidth=1,
    minor=dict(dtick=1, ticks="inside", ticklen=7, tickcolor=AXIS_COLOR),
    showline=True, linecolor=AXIS_COLOR, linewidth=1, mirror="ticks",
    showgrid=False, zeroline=False, automargin=False,
    tickfont=dict(size=22, color="#000000"),
    title=dict(text="Year", font=dict(size=20, color="#000000"), standoff=2),
)
fig.update_layout(xaxis=dict(
    range=[1979, 2017], tick0=1979, dtick=2, tickformat="d",
    ticks="inside", ticklen=7, tickcolor=AXIS_COLOR, tickwidth=1,
    minor=dict(dtick=1, ticks="inside", ticklen=7, tickcolor=AXIS_COLOR),
    showline=True, linecolor=AXIS_COLOR, linewidth=1, mirror="ticks",
    showgrid=False, zeroline=False, automargin=False,
    tickfont=dict(size=22, color="#000000"),
    title=dict(text="Year", font=dict(size=20, color="#000000"), standoff=2),
))
fig.update_layout(yaxis=dict(
    range=[230, 265], tick0=230, dtick=5,
    ticks="inside", ticklen=7, tickcolor=AXIS_COLOR, tickwidth=1,
    minor=dict(dtick=2.5, ticks="inside", ticklen=7, tickcolor=AXIS_COLOR),
    showline=True, linecolor=AXIS_COLOR, linewidth=1, mirror="ticks",
    showgrid=False, zeroline=False, automargin=False,
    tickfont=dict(size=21, color="#000000"),
    title=dict(text="Global average monthly-mean OLR (W/m<sup>2</sup>)",
               font=dict(size=23, color="#000000"), standoff=16),
))

fig.write_html("out.html")
